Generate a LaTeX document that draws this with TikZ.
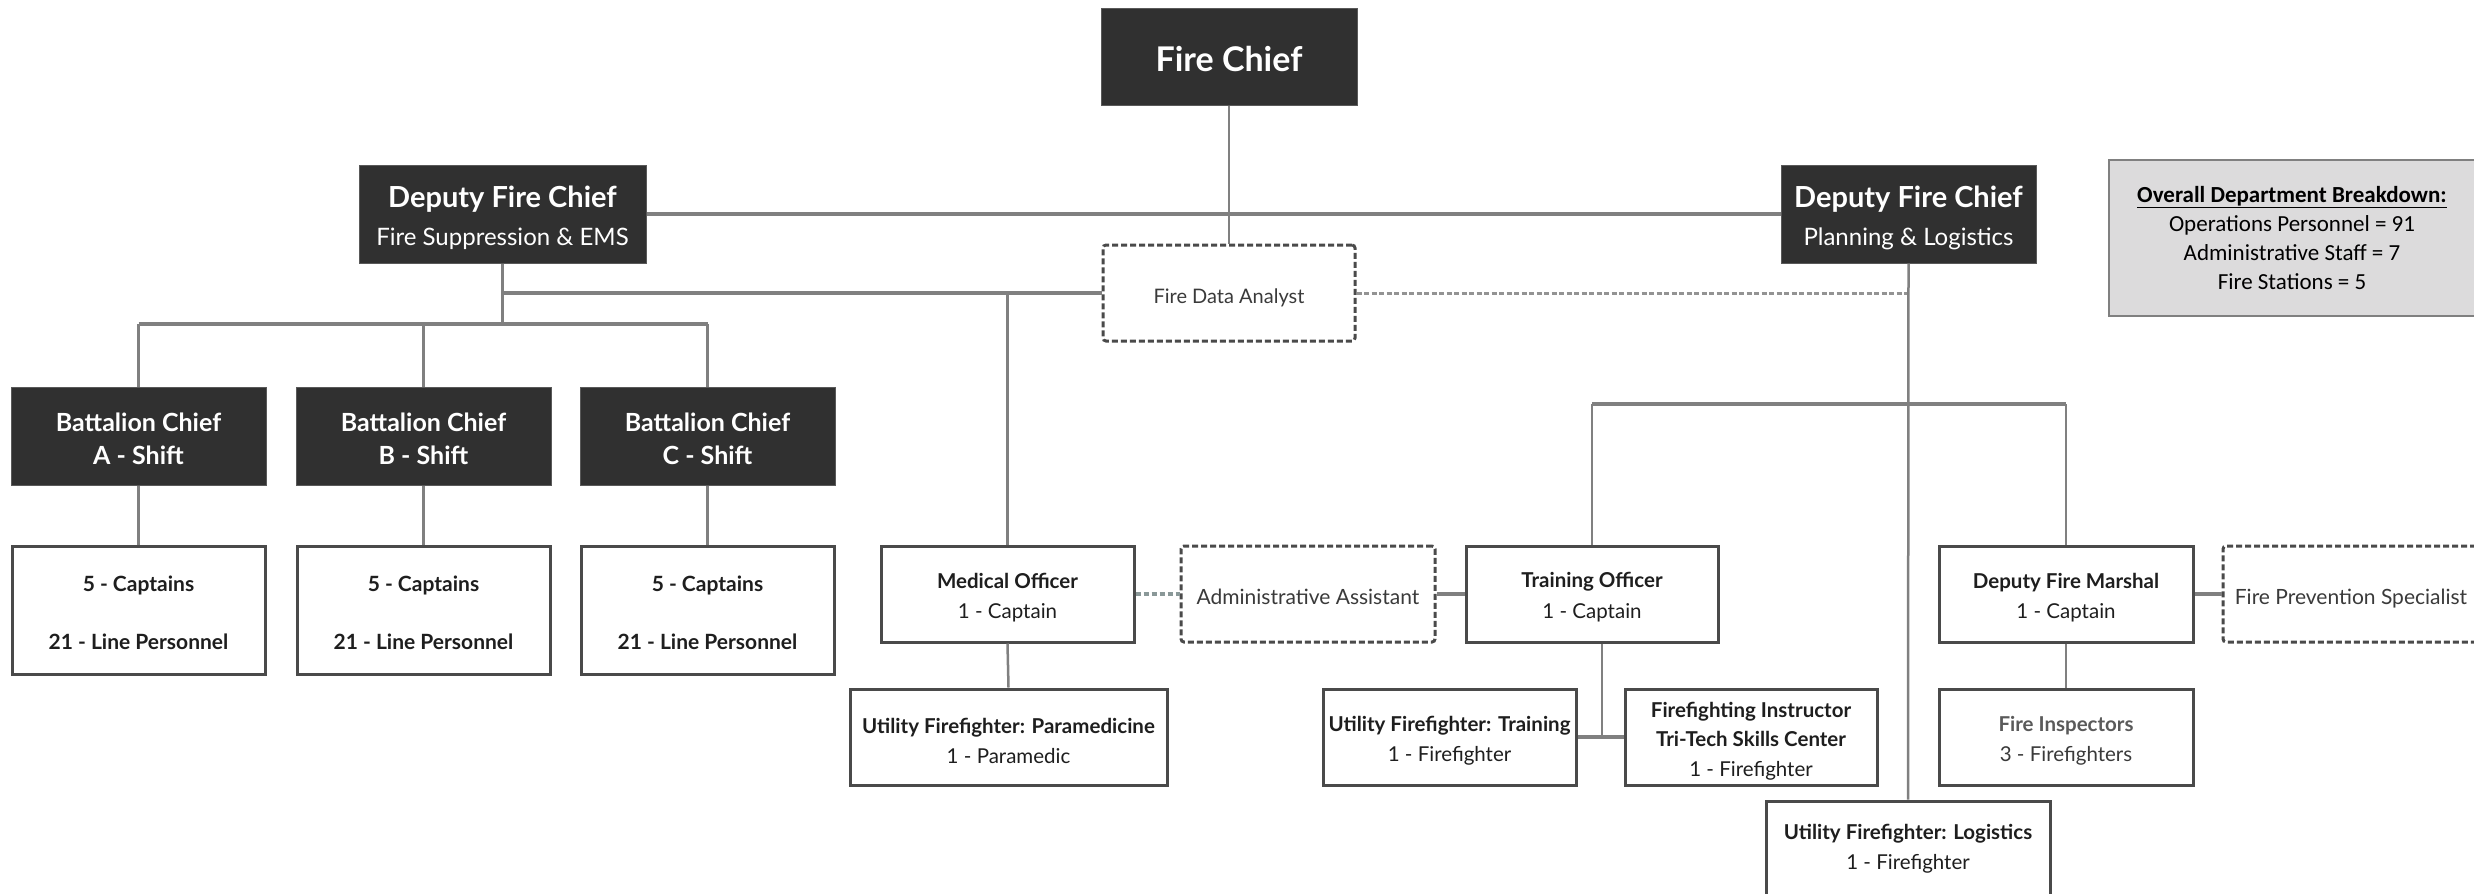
\documentclass[tikz,border=0pt]{standalone}
\usepackage{fontspec}
\setmainfont{Lato}
\newfontfamily\calfont{Carlito}
\definecolor{darkbox}{HTML}{303030}
\definecolor{linegray}{HTML}{808080}
\definecolor{bordergray}{HTML}{4A4A4A}
\definecolor{textdark}{HTML}{1E1E1E}
\definecolor{textmid}{HTML}{3A3A3A}
\definecolor{insptext}{HTML}{5A5A5A}
\definecolor{bdfill}{HTML}{DCDBDC}
\definecolor{dashblue}{HTML}{8A9898}
\newcommand\dn[1]{\rule{0pt}{#1pt}}
\tikzset{
  darkbox/.style={fill=darkbox, draw=darkbox!80!white, line width=1pt, text=white, inner sep=0pt, align=center},
  whitebox/.style={fill=white, draw=bordergray, line width=3pt, text=textdark, inner sep=0pt, align=center,
     minimum height=96pt, font=\fontsize{20.5}{30}\selectfont},
  dashbox/.style={fill=white, draw=bordergray, line width=3pt, dash pattern=on 6pt off 3pt, rounded corners=3pt,
     text=textmid, inner sep=0pt, align=center, minimum height=96pt, font=\fontsize{21}{29}\selectfont},
  conn/.style={draw=linegray, line width=2.5pt},
  hconn/.style={draw=linegray, line width=4pt},
  dconn/.style={draw=linegray!85!white, line width=3pt, dash pattern=on 5pt off 2.5pt},
  dbconn/.style={draw=dashblue, line width=3.5pt, dash pattern=on 5pt off 3pt},
}
\begin{document}
\begin{tikzpicture}[x=1pt,y=-1pt]
\useasboundingbox (0,0) rectangle (2474,894);
\fill[white] (0,0) rectangle (2474,894);

% ---- nodes ----
\node[darkbox, minimum width=256pt, minimum height=97pt, font=\fontsize{34}{40}\selectfont\bfseries] (fc) at (1229,56.5) {\dn{31}Fire Chief};
\node[darkbox, minimum width=287pt, minimum height=98pt, font=\fontsize{24}{38}\selectfont] (dl) at (502.5,214)
  {{\fontsize{29}{38}\selectfont\bfseries\dn{29.5}Deputy Fire Chief}\\Fire Suppression \& EMS};
\node[darkbox, minimum width=255pt, minimum height=98pt, font=\fontsize{24}{38}\selectfont] (dr) at (1908.5,214)
  {{\fontsize{29}{38}\selectfont\bfseries\dn{29.5}Deputy Fire Chief}\\Planning \& Logistics};
\node[dashbox, minimum width=252pt, font=\fontsize{20}{29}\selectfont] (fda) at (1229,293) {\dn{24}Fire Data Analyst};

\node[fill=bdfill, draw=linegray, line width=2.5pt, minimum width=366pt, minimum height=156pt, inner sep=0pt, align=center,
  text=black, font=\calfont\fontsize{23}{29}\selectfont] (bd) at (2292,238)
  {\textbf{\underline{Overall Department Breakdown:}}\\Operations Personnel = 91\\Administrative Staff = 7\\Fire Stations = 5};

\foreach \n/\x/\s in {ba/138.5/A, bb/423.5/B, bc/707.5/C}{
  \node[darkbox, minimum width=255pt, minimum height=98pt, font=\fontsize{25}{33}\selectfont\bfseries] (\n) at (\x,436)
    {\dn{24.5}Battalion Chief\\\s\ - Shift};
}
\foreach \n/\x in {ca/138.5, cb/423.5, cc/707.5}{
  \node[whitebox, minimum width=253pt, minimum height=128pt, font=\fontsize{21}{29}\selectfont\bfseries] (\n) at (\x,610)
    {\dn{21.5}5 - Captains\\[29pt]21 - Line Personnel};
}

\node[whitebox, minimum width=253pt] (mo) at (1007.5,594) {\dn{22}\textbf{Medical Officer}\\1 - Captain};
\node[whitebox, minimum width=317pt] (ufp) at (1008.5,737) {\dn{22.5}\textbf{Utility Firefighter: Paramedicine}\\1 - Paramedic};
\node[dashbox, minimum width=254pt] (aa) at (1308,594) {\dn{21.5}Administrative Assistant};
\node[whitebox, minimum width=252pt, font=\fontsize{20.5}{31}\selectfont] (to) at (1592,594) {\dn{22}\textbf{Training Officer}\\1 - Captain};
\node[whitebox, minimum width=254pt] (dfm) at (2066,594) {\dn{23}\textbf{Deputy Fire Marshal}\\1 - Captain};
\node[dashbox, minimum width=256pt] (fps) at (2351,594) {\dn{24}Fire Prevention Specialist};
\node[whitebox, minimum width=253pt] (uft) at (1449.5,737) {\dn{23}\textbf{Utility Firefighter: Training}\\1 - Firefighter};
\node[whitebox, minimum width=252pt, font=\fontsize{20.5}{29.5}\selectfont] (ffi) at (1751,737)
  {\dn{23}\textbf{Firefighting Instructor}\\\textbf{Tri-Tech Skills Center}\\1 - Firefighter};
\node[whitebox, minimum width=254pt, text=textmid] (fi) at (2066,737) {\dn{23}\textcolor{insptext}{\textbf{Fire Inspectors}}\\3 - Firefighters};
\node[whitebox, minimum width=284pt] (ufl) at (1908,849) {\textbf{Utility Firefighter: Logistics}\\1 - Firefighter};

% ---- connectors ----
\coordinate (jl) at (502.5,324);
\coordinate (jr) at (1908.5,404);
\coordinate (jt) at (1602,737);

\draw[conn] (fc.south) -- (fda.north);
\draw[hconn] (dl.east) -- (dr.west);

\draw[conn] (dl.south) -- (jl);
\draw[hconn] (ba.north |- jl) -- (bc.north |- jl);
\draw[conn] (ba.north |- jl) -- (ba.north);
\draw[conn] (bb.north |- jl) -- (bb.north);
\draw[conn] (bc.north |- jl) -- (bc.north);

\draw[hconn] (dl.south |- fda.west) -- (fda.west);
\draw[conn] (mo.north |- fda.west) -- (mo.north);
\draw[dconn] (fda.east) -- (fda.east -| dr.south);

\draw[conn] (dr.south) -- (ufl.north);
\draw[hconn] (to.north |- jr) -- (dfm.north |- jr);
\draw[conn] (to.north |- jr) -- (to.north);
\draw[conn] (dfm.north |- jr) -- (dfm.north);

\draw[conn] (ba.south) -- (ca.north);
\draw[conn] (bb.south) -- (cb.north);
\draw[conn] (bc.south) -- (cc.north);

\draw[conn] (mo.south) -- (ufp.north);
\draw[dbconn] (mo.east) -- (aa.west);
\draw[hconn] (aa.east) -- (to.west);
\draw[hconn] (dfm.east) -- (fps.west);
\draw[conn] (dfm.south) -- (fi.north);

\draw[conn] (to.south -| jt) -- (jt);
\draw[hconn] (uft.east) -- (ffi.west);
\end{tikzpicture}
\end{document}
